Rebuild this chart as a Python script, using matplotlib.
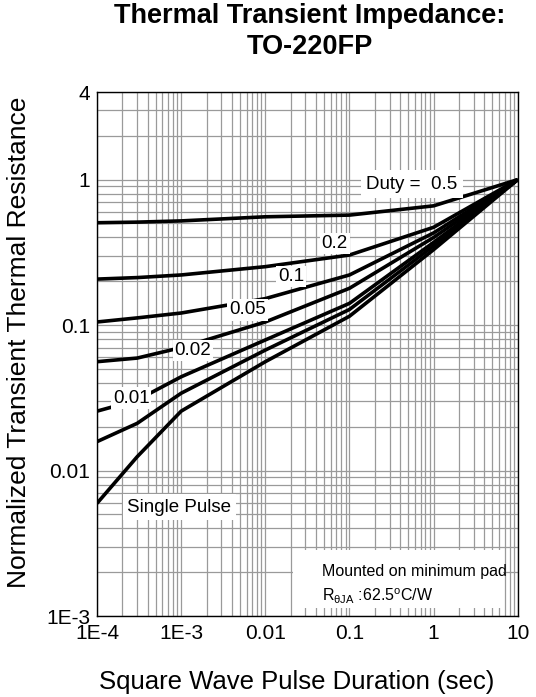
import matplotlib
matplotlib.use("Agg")
import matplotlib.pyplot as plt
from matplotlib.patches import Rectangle
from matplotlib.ticker import FixedLocator, FixedFormatter, LogLocator, NullFormatter

plt.rcParams['font.family'] = ['Liberation Sans', 'DejaVu Sans']
plt.rcParams['mathtext.fontset'] = 'custom'
plt.rcParams['mathtext.rm'] = 'Liberation Sans'
plt.rcParams['mathtext.it'] = 'Liberation Sans'

# pulse duration (sec)
t = [1e-4, 3e-4, 1e-3, 1e-2, 0.1, 1, 10]

# normalized transient thermal resistance per duty cycle
z_05 = [0.505, 0.51, 0.52, 0.555, 0.57, 0.66, 1.0]
z_02 = [0.207, 0.212, 0.221, 0.252, 0.303, 0.47, 1.0]
z_01 = [0.105, 0.112, 0.121, 0.152, 0.221, 0.43, 1.0]
z_005 = [0.056, 0.0593, 0.070, 0.105, 0.179, 0.40, 1.0]
z_002 = [0.0256, 0.0305, 0.0441, 0.079, 0.141, 0.37, 1.0]
z_001 = [0.0158, 0.0211, 0.034, 0.0673, 0.128, 0.35, 1.0]
z_single = [0.00595, 0.01244, 0.0256, 0.056, 0.115, 0.33, 1.0]

xticks = [1e-4, 1e-3, 1e-2, 0.1, 1, 10]
xticklabels = ['1E-4', '1E-3', '0.01', '0.1', '1', '10']
yticks = [1e-3, 1e-2, 0.1, 1, 4]
yticklabels = ['1E-3', '0.01', '0.1', '1', '4']

fig = plt.figure(figsize=(5.36, 6.97), dpi=100)
ax = fig.add_axes([0.181, 0.1162, 0.785, 0.7518])

for z in [z_05, z_02, z_01, z_005, z_002, z_001, z_single]:
    ax.plot(t, z, color='black', lw=2.6, solid_capstyle='butt', zorder=3)

ax.set_xscale('log')
ax.set_yscale('log')
ax.set_xlim(1e-4, 10)
ax.set_ylim(1e-3, 4)

ax.xaxis.set_major_locator(FixedLocator(xticks))
ax.xaxis.set_major_formatter(FixedFormatter(xticklabels))
ax.yaxis.set_major_locator(FixedLocator(yticks))
ax.yaxis.set_major_formatter(FixedFormatter(yticklabels))
ax.xaxis.set_minor_locator(LogLocator(base=10, subs=range(2, 10), numticks=20))
ax.yaxis.set_minor_locator(LogLocator(base=10, subs=range(2, 10), numticks=20))
ax.xaxis.set_minor_formatter(NullFormatter())
ax.yaxis.set_minor_formatter(NullFormatter())
ax.tick_params(which='both', length=0, labelsize=15)
ax.tick_params(axis='x', pad=6)
ax.tick_params(axis='y', pad=5)

ax.grid(True, which='both', color='#9a9a9a', lw=0.9, zorder=1)
ax.set_axisbelow(True)
for s in ax.spines.values():
    s.set_color('black')
    s.set_linewidth(1.0)

ax.set_xlabel('Square Wave Pulse Duration (sec)', fontsize=18.5)
ax.set_ylabel('Normalized Transient Thermal Resistance', fontsize=19)
ax.xaxis.set_label_coords(0.475, -0.103)
ax.yaxis.set_label_coords(-0.158, 0.522)

fig.text(0.578, 0.995, 'Thermal Transient Impedance:\nTO-220FP', ha='center', va='top',
         fontsize=19.5, fontweight='bold', linespacing=1.25)

box = dict(facecolor='white', edgecolor='none', pad=1.5)
ax.text(0.55, 0.93, 'Duty =  0.5', fontsize=13.5, ha='center', va='center',
        bbox=dict(facecolor='white', edgecolor='none', pad=4), zorder=4)
ax.text(0.067, 0.366, '0.2', fontsize=13.5, ha='center', va='center', bbox=box, zorder=4)
ax.text(0.0201, 0.217, '0.1', fontsize=13.5, ha='center', va='center', bbox=box, zorder=4)
ax.text(0.0062, 0.127, '0.05', fontsize=13.5, ha='center', va='center', bbox=box, zorder=4)
ax.text(0.00138, 0.0673, '0.02', fontsize=13.5, ha='center', va='center', bbox=box, zorder=4)
ax.text(0.000254, 0.0315, '0.01', fontsize=13.5, ha='center', va='center', bbox=box, zorder=4)
ax.text(0.00023, 0.00561, 'Single Pulse', fontsize=13.5, ha='left', va='center',
        bbox=dict(facecolor='white', edgecolor='none', pad=3), zorder=4)

ax.add_patch(Rectangle((0.465, 0.016), 0.5, 0.11, transform=ax.transAxes,
                       facecolor='white', edgecolor='none', zorder=2))
ax.text(0.535, 0.085, 'Mounted on minimum pad', transform=ax.transAxes, fontsize=11.5,
        ha='left', va='center', zorder=4)
ax.text(0.535, 0.038, r'R$_{\theta JA}$ :62.5$^{o}$C/W', transform=ax.transAxes, fontsize=11.5,
        ha='left', va='center', zorder=4)

fig.savefig('out.png', dpi=100)
